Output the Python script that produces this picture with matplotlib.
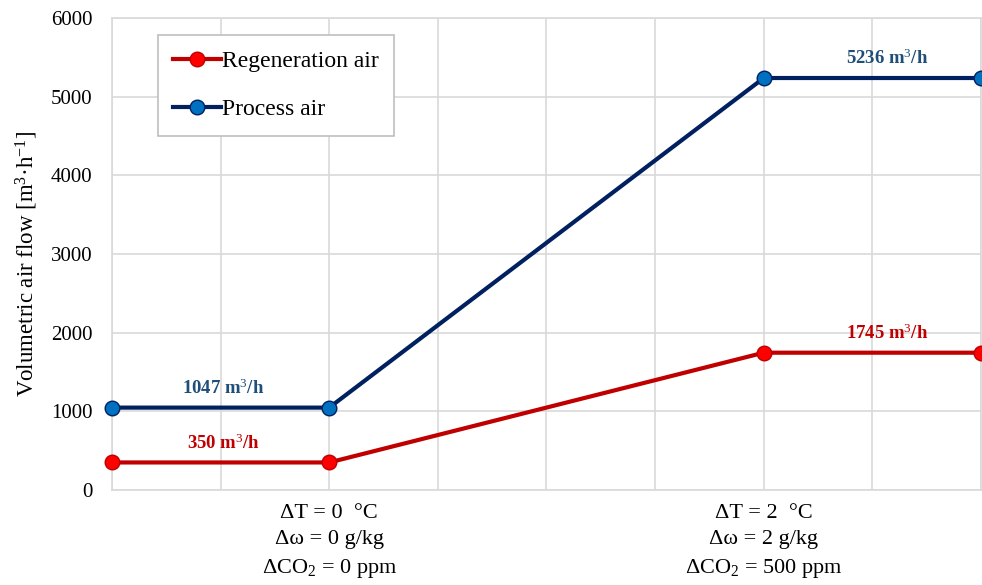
import matplotlib.pyplot as plt

plt.rcParams['font.family'] = ['Liberation Serif', 'DejaVu Serif']
plt.rcParams['mathtext.fontset'] = 'custom'
plt.rcParams['mathtext.rm'] = 'Liberation Serif'
plt.rcParams['mathtext.it'] = 'Liberation Serif:italic'
plt.rcParams['mathtext.bf'] = 'Liberation Serif:bold'

x_pos = [0, 2, 6, 8]
regen = [350, 350, 1745, 1745]
process = [1047, 1047, 5236, 5236]
tick_labels = ['', '', 'ΔT = 0  °C\nΔω = 0 g/kg\nΔCO$_2$ = 0 ppm', '', '', '', 'ΔT = 2  °C\nΔω = 2 g/kg\nΔCO$_2$ = 500 ppm', '', '']
regen_labels = [(1, 350, '350 m$^3$/h'), (7, 1745, '1745 m$^3$/h')]
process_labels = [(1, 1047, '1047 m$^3$/h'), (7, 5236, '5236 m$^3$/h')]

fig = plt.figure(figsize=(9.82, 5.85), dpi=100)
ax = fig.add_axes([0.114, 0.1624, 0.885, 0.807])

ax.plot(x_pos, regen, color='#C00000', lw=3, marker='o', ms=10.5,
        mfc='#FF0000', mec='#C00000', mew=1, label='Regeneration air', zorder=3, clip_on=False)
ax.plot(x_pos, process, color='#002060', lw=3, marker='o', ms=10.5,
        mfc='#0070C0', mec='#002060', mew=1, label='Process air', zorder=3, clip_on=False)

# labels sit a little right of the segment middles, as in the source
for (x, y, s), dx in zip(regen_labels, [2, 11]):
    ax.annotate(s, (x, y), xytext=(dx, 7), textcoords='offset points', ha='center', va='bottom',
                fontsize=13.5, fontweight='bold', color='#C00000')
for (x, y, s), dx in zip(process_labels, [2, 11]):
    ax.annotate(s, (x, y), xytext=(dx, 7), textcoords='offset points', ha='center', va='bottom',
                fontsize=13.5, fontweight='bold', color='#1F4E79')

ax.set_xlim(0, 8)
ax.set_ylim(0, 6000)
ax.set_xticks(range(9))
ax.set_xticklabels(tick_labels, fontsize=16, linespacing=1.5)
ax.set_yticks(range(0, 6001, 1000))
ax.tick_params(axis='y', labelsize=15, length=0, pad=14)
ax.tick_params(axis='x', length=0, pad=10)
ax.grid(True, color='#D9D9D9', lw=1.2)
ax.set_axisbelow(True)
for sp in ax.spines.values():
    sp.set_color('#D9D9D9')
    sp.set_linewidth(1.2)

ax.set_ylabel('Volumetric air flow [m$^3$·h$^{-1}$]', fontsize=16.5)
ax.yaxis.set_label_coords(-0.083, 0.48)

leg = ax.legend(loc='upper left', bbox_to_anchor=(0.053, 0.964), fontsize=17, fancybox=False,
                edgecolor='#BFBFBF', framealpha=1, handlelength=2.0, handletextpad=0.05,
                borderpad=0.65, labelspacing=1.15, borderaxespad=0)
leg.get_frame().set_linewidth(1.2)

fig.savefig('out.png', dpi=100)
